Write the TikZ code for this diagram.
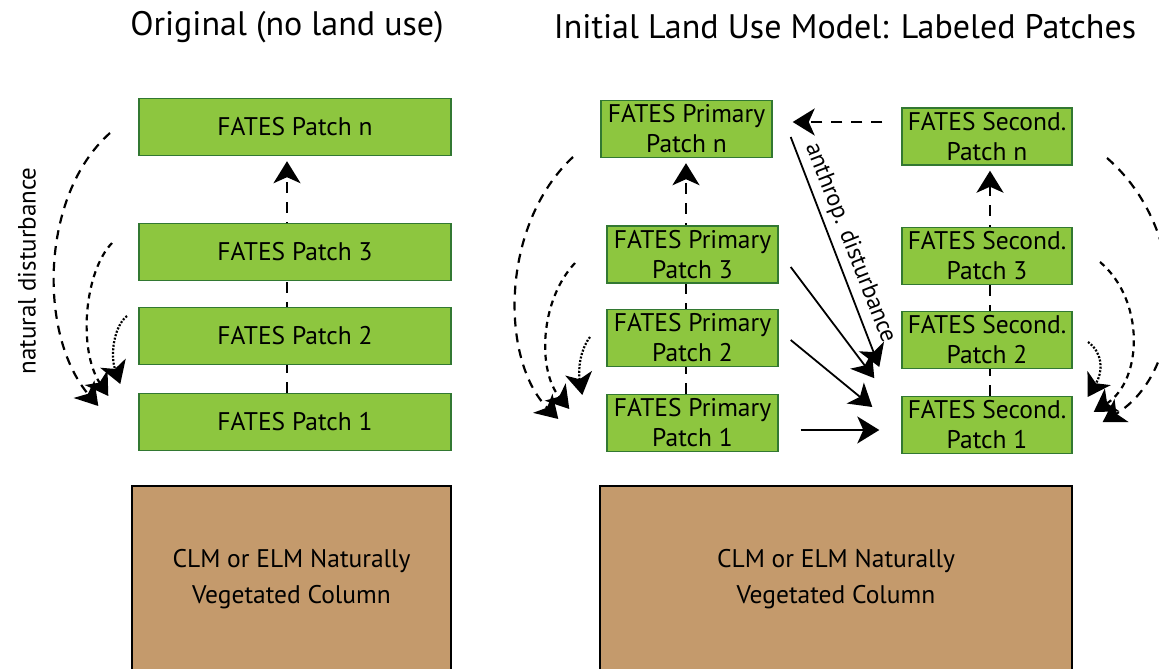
\documentclass[tikz,border=0pt]{standalone}
\usepackage{fontspec}
\setmainfont{PT Sans}
\usetikzlibrary{arrows.meta,calc,backgrounds}
\definecolor{patchfill}{RGB}{141,198,63}
\definecolor{patchline}{RGB}{50,120,50}
\definecolor{soil}{RGB}{196,154,108}
\tikzset{
  patch/.style={draw=patchline,fill=patchfill,line width=1.4pt,inner sep=0pt,
    align=center,font=\fontsize{25.5}{30}\selectfont,minimum height=57pt},
  wide/.style={patch,minimum width=312pt},
  narrow/.style={patch,minimum width=171pt},
  column/.style={draw=black,fill=soil,line width=2pt,align=center,
    font=\fontsize{25.5}{36}\selectfont,inner sep=0pt},
  title/.style={font=\fontsize{34}{38}\selectfont},
  headed/.style={arrows={-Stealth[length=22pt 0,width=27pt 0,inset=6pt 0]}},
  upflow/.style={headed,line width=2.6pt,dash pattern=on 11pt off 9pt},
  longarc/.style={headed,line width=2.2pt,dash pattern=on 9pt off 7pt},
  midarc/.style={headed,line width=2.2pt,dash pattern=on 6pt off 5pt},
  shortarc/.style={headed,line width=2.2pt,dash pattern=on 2pt off 1.6pt},
  transfer/.style={headed,line width=1.8pt},
}
\begin{document}
\begin{tikzpicture}[x=1pt,y=-1pt]
\useasboundingbox (0,0) rectangle (1159,669);
\clip (0,0) rectangle (1159,669);

% titles
\node[title] (t1) at (287,27) {Original (no land use)};
\node[title] (t2) at (845,27) {Initial Land Use Model: Labeled Patches};

% left: original patches
\node[wide] (on) at (295,127) {FATES Patch n};
\node[wide] (o3) at (295,252) {FATES Patch 3};
\node[wide] (o2) at (295,336) {FATES Patch 2};
\node[wide] (o1) at (295,422) {FATES Patch 1};

% right: primary patches
\node[narrow] (pn) at (686.5,129) {FATES Primary\\Patch n};
\node[narrow] (p3) at (692.5,254.5) {FATES Primary\\Patch 3};
\node[narrow] (p2) at (692.5,338) {FATES Primary\\Patch 2};
\node[narrow] (p1) at (692.5,423) {FATES Primary\\Patch 1};

% right: secondary patches
\node[narrow,minimum width=170pt] (sn) at (987,136.5) {FATES Second.\\Patch n};
\node[narrow,minimum width=170pt] (s3) at (987,256) {FATES Second.\\Patch 3};
\node[narrow,minimum width=170pt] (s2) at (987,340) {FATES Second.\\Patch 2};
\node[narrow,minimum width=170pt] (s1) at (987,425) {FATES Second.\\Patch 1};

% land model columns
\node[column,minimum width=319pt,minimum height=186pt] (c1) at (291.5,579)
  {CLM or ELM Naturally\\Vegetated Column};
\node[column,minimum width=472pt,minimum height=186pt] (c2) at (836,579)
  {CLM or ELM Naturally\\Vegetated Column};

% patch ageing, drawn behind the boxes
\begin{scope}[on background layer]
  \draw[upflow] ($(o1.north)+(-8,0)$) -- ($(on.south)+(-8,5)$);
  \draw[upflow] ($(p1.north)+(-6.5,0)$) -- ($(pn.south)+(-0.5,5)$);
  \draw[upflow] ($(s1.north)+(3,0)$) -- ($(sn.south)+(3,5)$);
\end{scope}

% natural disturbance, original column
\coordinate (oa) at (110,133);
\coordinate (ob) at (112,243);
\coordinate (oc) at (127,316);
\draw[longarc] (oa) .. controls (40,195) and (38,335) .. ($(o1.west)+(-40,-16)$);
\draw[midarc] (ob) .. controls (84,272) and (78,350) .. ($(o1.west)+(-30,-26)$);
\draw[shortarc] (oc) .. controls (114,326) and (110,355) .. ($(o1.west)+(-18,-38)$);
\node[rotate=90,font=\fontsize{25}{28}\selectfont] (nd) at (27,271) {natural disturbance};

% natural disturbance, primary patches
\coordinate (pa) at (573,157);
\coordinate (pb) at (575,263);
\coordinate (pc) at (590,337);
\draw[longarc] (pa) .. controls (500,225) and (500,360) .. ($(p1.west)+(-48,-4)$);
\draw[midarc] (pb) .. controls (540,300) and (537,370) .. ($(p1.west)+(-37,-14)$);
\draw[shortarc] (pc) .. controls (580,350) and (578,370) .. ($(p1.west)+(-24,-28)$);

% natural disturbance, secondary patches
\coordinate (sa) at (1107,158);
\coordinate (sb) at (1100,262);
\coordinate (sc) at (1088,342);
\draw[longarc] (sa) .. controls (1190,230) and (1188,370) .. ($(s1.east)+(30,-3)$);
\draw[midarc] (sb) .. controls (1145,300) and (1143,380) .. ($(s1.east)+(21,-13)$);
\draw[shortarc] (sc) .. controls (1102,352) and (1104,370) .. ($(s1.east)+(15,-28)$);

% secondary back to primary
\draw[upflow,line width=2.4pt] ($(sn.west)+(-19,-14.5)$) -- ($(pn.east)+(20,-7)$);

% anthropogenic disturbance
\draw[transfer] ($(p1.east)+(22,7)$) -- ($(s1.west)+(-22,5)$);
\draw[transfer] ($(p2.east)+(12,2)$) -- ($(s1.west)+(-29,-18)$);
\draw[transfer] ($(p3.east)+(12,12.5)$) -- ($(s2.south west)+(-27,9)$);
\draw[transfer] ($(pn.east)+(18,8)$) -- ($(s2.west)+(-22,27)$);
\node[rotate=-68.6,font=\fontsize{24}{28}\selectfont] (ad) at (850,243) {anthrop. disturbance};
\end{tikzpicture}
\end{document}
